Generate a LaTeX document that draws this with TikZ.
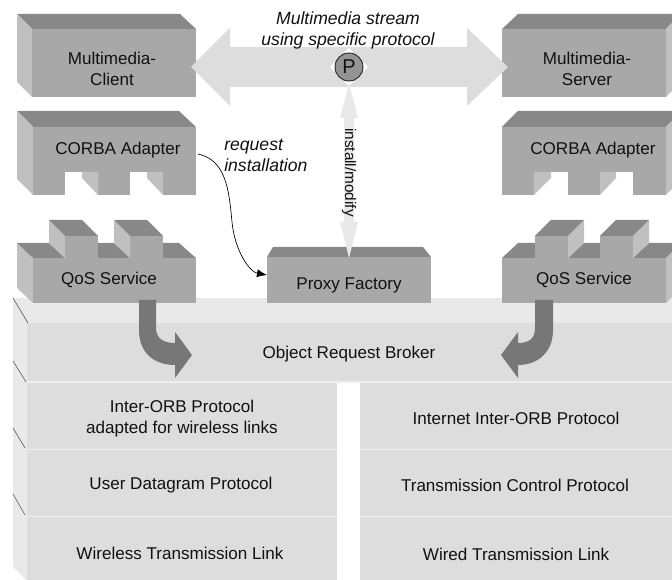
\documentclass[tikz,border=0pt]{standalone}
\usepackage{fontspec}
\setmainfont{Liberation Sans}
\usetikzlibrary{arrows.meta}
\definecolor{cfront}{HTML}{A8A8A8}
\definecolor{ctop}{HTML}{888888}
\definecolor{cside}{HTML}{C0C0C0}
\definecolor{cplat}{HTML}{E9E9E9}
\definecolor{clayer}{HTML}{DDDDDD}
\definecolor{csep}{HTML}{EEEEEE}
\definecolor{cflow}{HTML}{777777}
\definecolor{ctxt}{HTML}{111111}
\tikzset{
  front/.style={fill=cfront},
  topface/.style={fill=ctop},
  sideface/.style={fill=cside},
  notch/.style={fill=white},
  layer/.style={fill=clayer},
  sepline/.style={draw=csep,line width=1.4pt},
  edge/.style={draw=black!70,line width=0.4pt},
  flow/.style={fill=cflow},
  stream/.style={fill=clayer},
  ctl/.style={fill=cplat},
  lab/.style={text=ctxt,font=\fontsize{12.8}{15.75}\selectfont,align=center,inner sep=0pt},
  itlab/.style={lab,font=\fontsize{13.2}{15.75}\selectfont\itshape}
}
\begin{document}
\begin{tikzpicture}[x=0.75pt,y=-0.75pt]
\useasboundingbox (0,0) rectangle (672,580);
% platform
\fill[cplat] (13,298) -- (672,298) -- (672,323) -- (26,323) -- cycle;
\fill[cplat] (13,298) -- (27,323) -- (27,580) -- (26,580) -- (13,567) -- cycle;
\fill[layer] (27,323) rectangle (672,381);
\fill[layer] (27,383) rectangle (337,580);
\fill[layer] (360,383) rectangle (672,580);
\draw[sepline] (27,382) -- (337,382) (27,449.5) -- (337,449.5) (27,516.5) -- (337,516.5);
\draw[sepline] (360,382) -- (672,382) (360,449.5) -- (672,449.5) (360,516.5) -- (672,516.5);
\draw[sepline] (337,382) -- (672,382);
\draw[edge] (13,298) -- (28,323) (13,361) -- (26,382) (13,428) -- (25,448) (13,494) -- (25,515);
% Multimedia client
\fill[topface] (17,14) -- (180,14) -- (196,29) -- (32,29) -- cycle;
\fill[sideface] (17,14) -- (32,29) -- (32,97) -- (17,82) -- cycle;
\fill[front] (32,29) rectangle (196,97);
% CORBA left
\fill[topface] (17,111) -- (179,111) -- (196,127) -- (33,127) -- cycle;
\fill[sideface] (17,111) -- (33,127) -- (33,195) -- (17,179) -- cycle;
\fill[front] (33,127) rectangle (196,195);
\fill[notch] (65,172) rectangle (98,195.5);
\fill[sideface] (82,172) -- (98,172) -- (98,195) -- (82,178) -- cycle;
\fill[notch] (130,172) rectangle (163,195.5);
\fill[sideface] (147,172) -- (163,172) -- (163,195) -- (147,178) -- cycle;
% QoS left
\fill[sideface] (17,243) -- (33,258) -- (33,303) -- (17,288) -- cycle;
\fill[front] (33,258) rectangle (196,303);
\fill[topface] (17,243) -- (49,243) -- (65,258) -- (33,258) -- cycle;
\fill[topface] (98,243) -- (114,243) -- (130,258) -- (98,258) -- cycle;
\fill[topface] (163,243) -- (179,243) -- (196,258) -- (163,258) -- cycle;
\fill[sideface] (49,220) -- (65,236) -- (65,258) -- (49,243) -- cycle;
\fill[topface] (49,220) -- (82,220) -- (98,236) -- (65,236) -- cycle;
\fill[front] (65,236) rectangle (98,258);
\fill[sideface] (114,220) -- (130,236) -- (130,258) -- (114,243) -- cycle;
\fill[topface] (114,220) -- (147,220) -- (163,236) -- (130,236) -- cycle;
\fill[front] (130,236) rectangle (163,258);
% Multimedia server
\fill[topface] (502,29) -- (518,14) -- (672,14) -- (672,23) -- (666,29) -- cycle;
\fill[sideface] (666,29) -- (672,23) -- (672,91) -- (666,97) -- cycle;
\fill[front] (502,29) rectangle (666,97);
% CORBA right
\fill[topface] (502,127) -- (518,111) -- (672,111) -- (672,121) -- (666,127) -- cycle;
\fill[sideface] (666,127) -- (672,121) -- (672,189) -- (666,195) -- cycle;
\fill[front] (502,127) rectangle (666,195);
\fill[notch] (534,172) rectangle (568,195.5);
\fill[sideface] (534,172) -- (551,172) -- (551,178) -- (534,195) -- cycle;
\fill[notch] (600,172) rectangle (633,195.5);
\fill[sideface] (600,172) -- (616,172) -- (616,178) -- (600,195) -- cycle;
% QoS right
\fill[sideface] (666,258) -- (672,252) -- (672,297) -- (666,303) -- cycle;
\fill[front] (502,258) rectangle (666,303);
\fill[topface] (502,258) -- (518,243) -- (535,243) -- (535,258) -- cycle;
\fill[topface] (568,258) -- (584,243) -- (600,243) -- (600,258) -- cycle;
\fill[topface] (633,258) -- (649,243) -- (672,243) -- (672,252) -- (666,258) -- cycle;
\fill[sideface] (568,236) -- (584,220) -- (584,243) -- (568,258) -- cycle;
\fill[topface] (535,236) -- (551,220) -- (584,220) -- (568,236) -- cycle;
\fill[front] (535,236) rectangle (568,258);
\fill[sideface] (633,236) -- (649,220) -- (649,243) -- (633,258) -- cycle;
\fill[topface] (600,236) -- (616,220) -- (649,220) -- (633,236) -- cycle;
\fill[front] (600,236) rectangle (633,258);
% Proxy factory
\fill[topface] (273,247) -- (423,247) -- (431,257) -- (267,257) -- cycle;
\fill[front] (267,257) rectangle (431,303);
% connectors: named ends
\coordinate (sLeftTip) at (191,67);
\coordinate (sRightTip) at (508,67);
\coordinate (cUp) at (349,83);
\coordinate (cDown) at (349,258);
\coordinate (reqFrom) at (198,154);
\coordinate (reqTo) at (267,275);
% stream arrow
\fill[stream] (sLeftTip) -- (230,28) -- (230,47) -- (467,47) -- (467,28) -- (sRightTip) -- (467,106) -- (467,87) -- (230,87) -- (230,106) -- cycle;
% P marker
\fill[white] (330,67) -- (349,48) -- (368,67) -- (349,86) -- cycle;
\node[circle,draw=black!85,line width=0.7pt,fill=black!42,minimum size=21pt,inner sep=0pt,lab,font=\fontsize{15}{15}\selectfont] (pnode) at (349,67) {P};
% control arrow
\fill[ctl] (cUp) -- (358,118) -- (354,118) -- (354,222) -- (358,222) -- (cDown) -- (340,222) -- (344,222) -- (344,118) -- (340,118) -- cycle;
% flow arrows
\fill[flow] (139,300) -- (156,300) -- (156,328) .. controls (156,338) and (163,343) .. (175,343) -- (175,332) -- (192,355) -- (175,378) -- (175,365) .. controls (153,365) and (139,352) .. (139,330) -- cycle;
\fill[flow] (553,300) -- (535,300) -- (535,328) .. controls (535,338) and (530,343) .. (518,343) -- (518,332) -- (501,355) -- (518,378) -- (518,365) .. controls (538,365) and (553,352) .. (553,330) -- cycle;
% request arrow
\draw[black,line width=0.5pt,-{Latex[length=7.5pt,width=6pt]}] (reqFrom) .. controls (226,160) and (229,190) .. (232,222) .. controls (235,252) and (250,272) .. (reqTo);
% labels
\node[lab] (client) at (112,69) {Multimedia-\\Client};
\node[lab] (corbaL) at (118,150.5) {CORBA Adapter};
\node[lab] (qosL) at (109,279.5) {QoS Service};
\node[lab] (server) at (587,69) {Multimedia-\\Server};
\node[lab] (corbaR) at (593,150.5) {CORBA Adapter};
\node[lab] (qosR) at (584,279.5) {QoS Service};
\node[lab] (proxy) at (349,285) {Proxy Factory};
\node[lab] (orb) at (349,354) {Object Request Broker};
\node[lab] (iop) at (182,419) {Inter-ORB Protocol\\adapted for wireless links};
\node[lab] (udp) at (181,485) {User Datagram Protocol};
\node[lab] (wless) at (180,553) {Wireless Transmission Link};
\node[lab] (iiop) at (516,418) {Internet Inter-ORB Protocol};
\node[lab] (tcp) at (515,485) {Transmission Control Protocol};
\node[lab] (wired) at (516,554) {Wired Transmission Link};
\node[itlab] (streamlab) at (348,30) {Multimedia stream\\using specific protocol};
\node[itlab,align=left,anchor=west] (reqlab) at (224,155.5) {request\\installation};
\node[lab,rotate=-90,font=\fontsize{11.5}{13}\selectfont] (instlab) at (349,172.5) {install/modify};
\end{tikzpicture}
\end{document}
